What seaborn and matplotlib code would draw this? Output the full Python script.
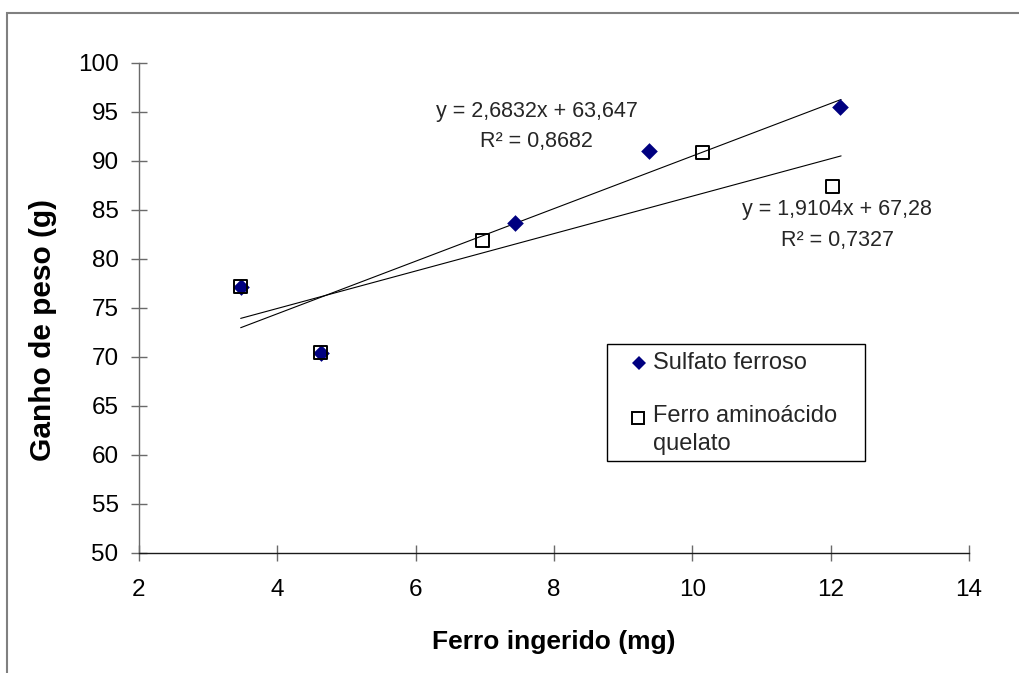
import matplotlib
matplotlib.use("Agg")
import matplotlib.pyplot as plt
import seaborn as sns
import pandas as pd
from matplotlib.patches import Rectangle
from matplotlib.lines import Line2D

# Ferro ingerido (mg) x ganho de peso (g) para cada fonte de ferro
sulfato_x = [3.47, 4.63, 7.43, 9.37, 12.14]
sulfato_y = [77.15, 70.4, 83.6, 91.0, 95.5]
quelato_x = [3.47, 4.63, 6.97, 10.15, 12.03]
quelato_y = [77.15, 70.4, 81.9, 90.8, 87.35]

# Linhas de tendência lineares (inclinação, intercepto) e R²
sulfato_coef = (2.6832, 63.647)
quelato_coef = (1.9104, 67.28)
sulfato_eq = "y = 2,6832x + 63,647"
sulfato_r2 = "R² = 0,8682"
quelato_eq = "y = 1,9104x + 67,28"
quelato_r2 = "R² = 0,7327"
trend_x = [3.47, 12.15]

series_names = ["Sulfato ferroso", "Ferro aminoácido\nquelato"]
x_ticks = [2, 4, 6, 8, 10, 12, 14]
y_ticks = [50, 55, 60, 65, 70, 75, 80, 85, 90, 95, 100]
x_label = "Ferro ingerido (mg)"
y_label = "Ganho de peso (g)"

NAVY = "#000080"
AXIS_GRAY = "#6a6a6a"

sns.set_theme(style="white")
plt.rcParams["font.family"] = ["Liberation Sans", "DejaVu Sans"]

fig = plt.figure(figsize=(10.19, 6.73), dpi=100)
ax = fig.add_axes([0.1364, 0.1788, 0.8146, 0.728])

# Linhas de tendência a partir das equações ajustadas
trend = pd.DataFrame({
    "x": trend_x + trend_x,
    "y": [sulfato_coef[0] * v + sulfato_coef[1] for v in trend_x]
         + [quelato_coef[0] * v + quelato_coef[1] for v in trend_x],
    "serie": [series_names[0]] * 2 + [series_names[1]] * 2,
})
sns.lineplot(data=trend, x="x", y="y", units="serie", estimator=None,
             color="black", linewidth=0.8, legend=False, ax=ax, zorder=2)

# Pontos observados
sns.scatterplot(x=sulfato_x, y=sulfato_y, marker="D", s=72, color=NAVY,
                edgecolor=NAVY, linewidth=0, ax=ax, zorder=3)
sns.scatterplot(x=quelato_x, y=quelato_y, marker="s", s=88,
                facecolors="none", edgecolors="black", linewidth=1.4,
                ax=ax, zorder=4)
ax.collections[-1].set_facecolor("none")
ax.collections[-1].set_edgecolor("black")

# Equações e coeficientes de determinação
ax.text(7.75, 95.07, sulfato_eq, ha="center", va="center", fontsize=15.5)
ax.text(7.75, 91.94, sulfato_r2, ha="center", va="center", fontsize=15.5)
ax.text(12.09, 85.07, quelato_eq, ha="center", va="center", fontsize=15.5)
ax.text(12.10, 81.9, quelato_r2, ha="center", va="center", fontsize=15.5)

# Eixos
ax.set_xlim(2, 14)
ax.set_ylim(50, 100)
ax.set_xticks(x_ticks)
ax.set_yticks(y_ticks)
ax.set_xticklabels([str(v) for v in x_ticks])
ax.set_yticklabels([str(v) for v in y_ticks])
for side in ("top", "right"):
    ax.spines[side].set_visible(False)
ax.spines["left"].set_color(AXIS_GRAY)
ax.spines["bottom"].set_color("#1a1a1a")
ax.spines["left"].set_linewidth(1.0)
ax.spines["bottom"].set_linewidth(1.0)
ax.tick_params(axis="both", direction="inout", length=11.5, width=1.0,
               color=AXIS_GRAY, labelsize=17.5, labelcolor="black",
               bottom=True, left=True, top=False, right=False)
ax.tick_params(axis="y", pad=9)
ax.tick_params(axis="x", pad=13)
ax.grid(False)
ax.set_facecolor("white")

ax.set_xlabel(x_label, fontsize=19, fontweight="bold", color="black")
ax.set_ylabel(y_label, fontsize=21.5, fontweight="bold", color="black")
ax.xaxis.label.set_va("center")
ax.yaxis.label.set_va("center")
ax.xaxis.set_label_coords(0.5, -0.182)
ax.yaxis.set_label_coords(-0.1157, 0.4545)

# Legenda com caixa
ax.add_patch(Rectangle((0.5639, 0.187), 0.3108, 0.239, transform=ax.transAxes,
                       facecolor="white", edgecolor="black", linewidth=1.0,
                       zorder=5))
ax.add_line(Line2D([0.6024], [0.3871], transform=ax.transAxes, linestyle="none",
                   marker="D", markersize=7.0, markerfacecolor=NAVY,
                   markeredgecolor=NAVY, markeredgewidth=0, zorder=6))
ax.add_line(Line2D([0.6012], [0.2749], transform=ax.transAxes, linestyle="none",
                   marker="s", markersize=8.2, markerfacecolor="none",
                   markeredgecolor="black", markeredgewidth=1.4, zorder=6))
ax.text(0.6193, 0.3871, series_names[0], transform=ax.transAxes,
        ha="left", va="center", fontsize=17, zorder=6)
ax.text(0.6193, 0.2504, series_names[1], transform=ax.transAxes,
        ha="left", va="center", fontsize=17, linespacing=1.4, zorder=6)

# Moldura externa do gráfico
fig.patches.append(Rectangle((7 / 1019, -0.1), 1.2, 1.1 - 13 / 673,
                             transform=fig.transFigure, fill=False,
                             edgecolor="#808080", linewidth=1.5))

fig.savefig("out.png", dpi=100)
